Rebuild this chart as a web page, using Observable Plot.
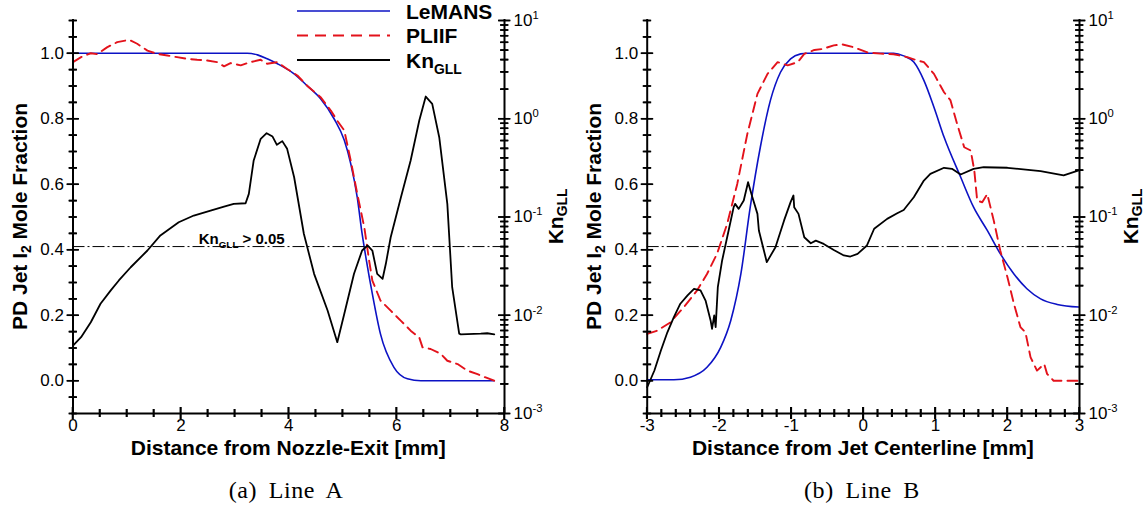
<!DOCTYPE html>
<html><head><meta charset="utf-8">
<script src="https://cdn.jsdelivr.net/npm/d3@7"></script>
<script src="https://cdn.jsdelivr.net/npm/@observablehq/plot@0.6"></script>
<style>
html,body{margin:0;padding:0;background:#fff;}
#fig{position:relative;width:1148px;height:518px;overflow:hidden;background:#fff;}
#fig svg{position:absolute;top:0;}
.cap{position:absolute;top:477px;font-family:"Liberation Serif","Times New Roman",serif;font-size:24px;letter-spacing:0.6px;word-spacing:5px;line-height:26px;white-space:nowrap;color:#000;width:300px;text-align:center;}
</style></head><body>
<div id="fig"></div>
<script>
// ---------------- data ----------------
// Panel (a) Line A : x = distance from nozzle exit [mm]
const LeMANS_A = [[0,1.0],[3.23,1.0],[3.42,0.995],[3.60,0.983],[3.79,0.968],[4.10,0.937],[4.34,0.901],[4.59,0.861],[4.84,0.80],[5.03,0.734],[5.15,0.662],[5.27,0.560],[5.36,0.449],[5.44,0.367],[5.55,0.265],[5.70,0.143],[5.95,0.041],[6.20,0.006],[6.45,0.0],[7.81,0.0]];
const PLIIF_A = [[0,0.973],[0.15,0.988],[0.33,1.0],[0.45,0.997],[0.63,1.018],[0.82,1.034],[1.04,1.041],[1.19,1.029],[1.38,1.008],[1.56,0.998],[1.75,0.993],[1.93,0.988],[2.12,0.983],[2.30,0.98],[2.49,0.978],[2.67,0.973],[2.80,0.96],[2.92,0.970],[3.11,0.963],[3.29,0.973],[3.48,0.98],[3.60,0.968],[3.79,0.973],[3.97,0.952],[4.16,0.932],[4.34,0.901],[4.59,0.866],[4.78,0.825],[4.90,0.794],[5.03,0.764],[5.15,0.672],[5.27,0.571],[5.40,0.469],[5.49,0.367],[5.55,0.306],[5.70,0.245],[5.89,0.214],[6.08,0.183],[6.26,0.153],[6.42,0.132],[6.48,0.102],[6.63,0.097],[6.82,0.082],[6.94,0.061],[7.13,0.051],[7.31,0.031],[7.50,0.020],[7.65,0.010],[7.81,0.0]];
const Kn_A = [[0,0.00492],[0.15,0.00598],[0.33,0.00849],[0.51,0.0131],[0.70,0.0179],[0.85,0.0226],[1.07,0.0308],[1.38,0.0456],[1.62,0.0649],[1.96,0.0885],[2.24,0.1035],[2.55,0.1164],[2.80,0.1276],[2.98,0.136],[3.20,0.138],[3.26,0.172],[3.35,0.376],[3.48,0.625],[3.59,0.713],[3.70,0.659],[3.78,0.543],[3.88,0.592],[3.97,0.494],[4.10,0.254],[4.28,0.0675],[4.47,0.0264],[4.72,0.01117],[4.90,0.00532],[5.03,0.01035],[5.21,0.0264],[5.36,0.0456],[5.46,0.0513],[5.55,0.0456],[5.64,0.0264],[5.74,0.0235],[5.80,0.0334],[5.89,0.0622],[6.08,0.159],[6.26,0.376],[6.42,0.959],[6.54,1.683],[6.66,1.419],[6.79,0.649],[6.94,0.136],[7.03,0.0193],[7.16,0.00649],[7.19,0.0064],[7.56,0.00649],[7.68,0.00656],[7.81,0.0064]];

// Panel (b) Line B : x = distance from jet centerline [mm]
const LeMANS_B = [[-3.0,0.003],[-2.63,0.003],[-2.40,0.011],[-2.17,0.041],[-1.98,0.102],[-1.84,0.184],[-1.70,0.326],[-1.57,0.53],[-1.43,0.713],[-1.29,0.856],[-1.15,0.942],[-1.01,0.983],[-0.87,0.998],[-0.78,1.0],[0.42,1.0],[0.56,0.992],[0.70,0.973],[0.84,0.917],[0.98,0.835],[1.12,0.744],[1.35,0.622],[1.53,0.53],[1.72,0.459],[1.90,0.388],[2.09,0.326],[2.27,0.281],[2.46,0.25],[2.69,0.233],[2.99,0.225]];
const PLIIF_B = [[-3.0,0.143],[-2.86,0.153],[-2.68,0.178],[-2.49,0.225],[-2.31,0.275],[-2.17,0.326],[-2.03,0.388],[-1.89,0.479],[-1.75,0.601],[-1.61,0.754],[-1.47,0.876],[-1.33,0.937],[-1.19,0.973],[-1.05,0.963],[-0.91,0.973],[-0.82,0.998],[-0.68,1.010],[-0.57,1.013],[-0.41,1.024],[-0.29,1.027],[-0.13,1.018],[0.06,1.002],[0.24,0.999],[0.42,0.997],[0.61,0.988],[0.75,0.978],[0.84,0.973],[0.98,0.937],[1.12,0.881],[1.21,0.856],[1.30,0.785],[1.40,0.713],[1.49,0.703],[1.54,0.642],[1.58,0.550],[1.65,0.545],[1.72,0.570],[1.81,0.489],[1.90,0.398],[2.00,0.316],[2.09,0.235],[2.18,0.164],[2.25,0.148],[2.32,0.072],[2.41,0.031],[2.51,0.051],[2.55,0.021],[2.64,0.0],[2.99,0.0]];
const Kn_B = [[-3.0,0.00185],[-2.90,0.00274],[-2.81,0.00438],[-2.72,0.00671],[-2.63,0.00955],[-2.54,0.0131],[-2.44,0.0159],[-2.35,0.0186],[-2.26,0.0179],[-2.19,0.0141],[-2.12,0.00885],[-2.10,0.00728],[-2.07,0.00995],[-2.05,0.00757],[-2.02,0.0193],[-1.96,0.0361],[-1.87,0.0729],[-1.80,0.126],[-1.78,0.136],[-1.73,0.121],[-1.66,0.147],[-1.60,0.226],[-1.54,0.159],[-1.47,0.1076],[-1.45,0.0729],[-1.34,0.0347],[-1.22,0.0493],[-1.10,0.0923],[-1.01,0.1416],[-0.97,0.1656],[-0.96,0.126],[-0.90,0.1076],[-0.82,0.0622],[-0.73,0.0541],[-0.66,0.0575],[-0.55,0.0532],[-0.41,0.0462],[-0.27,0.0406],[-0.18,0.0396],[-0.08,0.0422],[0.05,0.0513],[0.15,0.0759],[0.33,0.0957],[0.47,0.109],[0.56,0.118],[0.70,0.159],[0.84,0.235],[0.93,0.275],[1.12,0.317],[1.23,0.309],[1.35,0.271],[1.53,0.309],[1.67,0.321],[2.00,0.317],[2.46,0.293],[2.78,0.265],[2.99,0.298]];

// threshold and its annotation
const knThreshold = [0.05];
const annotA = [{x: 2.33, kn: 0.05, label: "Kn_{GLL} > 0.05"}];

// axes / ticks
const xDomainA = [0, 8];
const xDomainB = [-3, 3];
const xMajorA = [0, 2, 4, 6, 8];
const xMinorA = [0.5, 1, 1.5, 2.5, 3, 3.5, 4.5, 5, 5.5, 6.5, 7, 7.5];
const xMajorB = [-3, -2, -1, 0, 1, 2, 3];
const xMinorB = [-2.8,-2.6,-2.4,-2.2,-1.8,-1.6,-1.4,-1.2,-0.8,-0.6,-0.4,-0.2,0.2,0.4,0.6,0.8,1.2,1.4,1.6,1.8,2.2,2.4,2.6,2.8];
const yDomain = [-0.1, 1.1];
const yMajor = [0, 0.2, 0.4, 0.6, 0.8, 1.0];
const yMinor = [-0.1,-0.05,0.05,0.1,0.15,0.25,0.3,0.35,0.45,0.5,0.55,0.65,0.7,0.75,0.85,0.9,0.95,1.05,1.1];
const knDomain = [1e-3, 10];
const knMajor = [1e-3, 1e-2, 1e-1, 1, 10];
const knMinor = [0.002,0.003,0.004,0.005,0.006,0.007,0.008,0.009,0.02,0.03,0.04,0.05,0.06,0.07,0.08,0.09,0.2,0.3,0.4,0.5,0.6,0.7,0.8,0.9,2,3,4,5,6,7,8,9];

const seriesNames = ["LeMANS", "PLIIF", "Kn_{GLL}"];
const yTitle = "PD Jet I_{2} Mole Fraction";
const knTitle = "Kn_{GLL}";
const xTitles = ["Distance from Nozzle-Exit [mm]", "Distance from Jet Centerline [mm]"];
const captions = ["(a) Line A", "(b) Line B"];

// ---------------- styles ----------------
const BLUE = "#0c12c4", RED = "#e3121b", BLACK = "#000";
const W = 574, H = 470, MT = 20, MB = 57;
const FONT = '"Liberation Sans", Arial, Helvetica, sans-serif';
const svgNS = "http://www.w3.org/2000/svg";

function setRich(el, str, basePx) {
  while (el.firstChild) el.removeChild(el.firstChild);
  const re = /([_^])\{([^}]*)\}/g;
  let last = 0, m, cur = 0;
  const add = (txt, dy, size) => {
    const t = document.createElementNS(svgNS, "tspan");
    t.textContent = txt;
    if (dy) t.setAttribute("dy", dy);
    if (size) t.setAttribute("font-size", size);
    el.appendChild(t);
  };
  while ((m = re.exec(str))) {
    if (m.index > last) { add(str.slice(last, m.index), -cur); cur = 0; }
    const s = m[1] === "^" ? -0.42 * basePx : 0.32 * basePx;
    add(m[2], s - cur, 0.66 * basePx); cur = s;
    last = re.lastIndex;
  }
  if (last < str.length) add(str.slice(last), -cur);
}
function richify(svg) {
  svg.querySelectorAll("text").forEach(t => {
    const s = t.textContent;
    if (/[_^]\{/.test(s)) setRich(t, s, parseFloat(getComputedStyle(t).fontSize));
  });
}
// crossing tick marks as small filled bars, placed with the plot's own scales
function tickBars(svg, scaleName, vals, size, side, p) {
  const sc = svg.scale(scaleName);
  const t = 1.6;
  let d = "";
  for (const v of vals) {
    const c = sc.apply(v);
    if (!isFinite(c)) continue;
    if (side === "bottom") {
      const y0 = H - MB;
      d += `M${(c - t / 2).toFixed(2)},${(y0 - size / 2).toFixed(2)}h${t}v${size}h${-t}Z`;
    } else {
      const x0 = side === "left" ? p.ml + 0.5 : W - p.mr + 0.5;
      d += `M${(x0 - size / 2).toFixed(2)},${(c - t / 2 + 0.5).toFixed(2)}h${size}v${t}h${-size}Z`;
    }
  }
  d3.select(svg).append("path").attr("aria-label", side + " ticks").attr("fill", BLACK).attr("stroke", "none").attr("d", d);
}

const panels = [
  {left: 0, ml: 72.5, mr: 70, xDomain: xDomainA, xMajor: xMajorA, xMinor: xMinorA, lemans: LeMANS_A, pliif: PLIIF_A, kn: Kn_A, xTitle: xTitles[0], caption: captions[0], capX: 286, legend: true, annot: annotA, ytx: 19, ktx: 555},
  {left: 574, ml: 72.7, mr: 69, xDomain: xDomainB, xMajor: xMajorB, xMinor: xMinorB, lemans: LeMANS_B, pliif: PLIIF_B, kn: Kn_B, xTitle: xTitles[1], caption: captions[1], capX: 862, legend: false, annot: [], ytx: 19, ktx: 556}
];

const fig = document.getElementById("fig");
const TW = 1.6;

for (const p of panels) {
  const fw = W - p.ml - p.mr, fh = H - MT - MB;
  const ticksBottom = (vals, s) => Plot.tickX(vals, {x: d => d, insetTop: fh - s / 2, insetBottom: -s / 2, stroke: BLACK, strokeWidth: TW});
  const ticksLeft = (vals, s) => Plot.tickY(vals, {y: d => d, insetLeft: -s / 2, insetRight: fw - s / 2, stroke: BLACK, strokeWidth: TW});
  const ticksRight = (vals, s) => Plot.tickY(vals, {y: d => d, insetLeft: fw - s / 2, insetRight: -s / 2, stroke: BLACK, strokeWidth: TW});
  const common = {
    width: W, height: H, marginLeft: p.ml, marginRight: p.mr, marginTop: MT, marginBottom: MB,
    style: {fontFamily: FONT, fontSize: "17px", color: "#000", background: "transparent", overflow: "visible"}
  };
  const lin = Plot.plot({
    ...common,
    x: {domain: p.xDomain, axis: null},
    y: {domain: yDomain, axis: null},
    marks: [
      Plot.line(p.lemans, {x: d => d[0], y: d => d[1], stroke: BLUE, strokeWidth: 1.6, curve: "monotone-x"}),
      Plot.line(p.pliif, {x: d => d[0], y: d => d[1], stroke: RED, strokeWidth: 1.9, strokeDasharray: "10,6"}),
      Plot.ruleX([p.xDomain[0]], {stroke: BLACK, strokeWidth: 2, strokeLinecap: "square"}),
      Plot.ruleY([yDomain[0]], {stroke: BLACK, strokeWidth: 2, strokeLinecap: "square"}),
      ticksLeft(yMinor, 8),
      ticksLeft(yMajor, 12),
      Plot.axisY(yMajor, {anchor: "left", tickSize: 0, tickPadding: 9, tickFormat: d3.format(".1f"), label: null}),
      ticksBottom(p.xMinor, 8),
      ticksBottom(p.xMajor, 12),
      Plot.axisX(p.xMajor, {anchor: "bottom", tickSize: 0, tickPadding: 5, tickFormat: d => String(d), label: null})
    ]
  });
  const log = Plot.plot({
    ...common,
    x: {domain: p.xDomain, axis: null},
    y: {type: "log", domain: knDomain, axis: null},
    marks: [
      Plot.ruleY(knThreshold, {stroke: BLACK, strokeWidth: 1, strokeDasharray: "12,3,2,3"}),
      Plot.line(p.kn, {x: d => d[0], y: d => d[1], stroke: BLACK, strokeWidth: 1.8}),
      Plot.ruleX([p.xDomain[1]], {stroke: BLACK, strokeWidth: 2, strokeLinecap: "square"}),
      ticksRight(knMinor, 8),
      ticksRight(knMajor, 12),
      Plot.axisY(knMajor, {anchor: "right", tickSize: 0, tickPadding: 9, tickFormat: d => `10^{${Math.round(Math.log10(d))}}`, label: null}),
      Plot.text(p.annot, {x: "x", y: "kn", text: "label", textAnchor: "start", lineAnchor: "bottom", dy: -3, fontWeight: "bold", fontSize: 15})
    ]
  });
  for (const s of [lin, log]) {
    s.style.left = p.left + "px";
    fig.appendChild(s);
  }
  // axis titles
  const dl = d3.select(lin);
  dl.append("text").attr("transform", `translate(${p.ytx},${(MT + H - MB) / 2}) rotate(-90)`)
    .attr("text-anchor", "middle").attr("dominant-baseline", "central")
    .attr("font-weight", "bold").attr("font-size", 21).text(yTitle);
  dl.append("text").attr("x", (p.ml + W - p.mr) / 2).attr("y", 455)
    .attr("text-anchor", "middle").attr("font-weight", "bold").attr("font-size", 21).text(p.xTitle);
  const dg = d3.select(log);
  dg.append("text").attr("transform", `translate(${p.ktx},${(MT + H - MB) / 2}) rotate(-90)`)
    .attr("text-anchor", "middle").attr("dominant-baseline", "central")
    .attr("font-weight", "bold").attr("font-size", 21).text(knTitle);
  // legend
  if (p.legend) {
    const styles = [{c: BLUE, d: null, w: 1.6}, {c: RED, d: "11,7", w: 1.9}, {c: BLACK, d: null, w: 1.8}];
    const lg = dg.append("g").attr("aria-label", "legend");
    seriesNames.forEach((name, i) => {
      const y = 11 + i * 24.5;
      lg.append("line").attr("x1", 297).attr("x2", 390).attr("y1", y).attr("y2", y)
        .attr("stroke", styles[i].c).attr("stroke-width", styles[i].w).attr("stroke-dasharray", styles[i].d);
      lg.append("text").attr("x", 406).attr("y", y).attr("dy", "0.36em").attr("text-anchor", "start")
        .attr("font-weight", "bold").attr("font-size", 21).text(name);
    });
  }
  richify(lin); richify(log);
  // tick bars drawn last, on top of everything in each layer
  tickBars(lin, "y", yMinor, 8, "left", p);
  tickBars(lin, "y", yMajor, 12, "left", p);
  tickBars(lin, "x", p.xMinor, 8, "bottom", p);
  tickBars(lin, "x", p.xMajor, 12, "bottom", p);
  tickBars(log, "y", knMinor, 8, "right", p);
  tickBars(log, "y", knMajor, 12, "right", p);
  const cap = document.createElement("div");
  cap.className = "cap";
  cap.style.left = (p.capX - 150) + "px";
  cap.textContent = p.caption;
  fig.appendChild(cap);
}
</script>
</body></html>
